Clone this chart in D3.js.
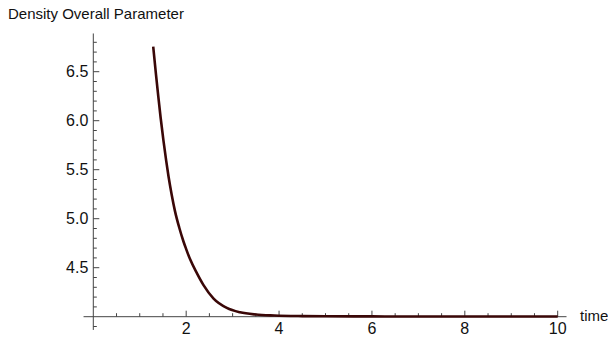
<!DOCTYPE html>
<html>
<head>
<meta charset="utf-8">
<script src="https://cdn.jsdelivr.net/npm/d3@7"></script>
<style>
  body { margin: 0; background: #fff; }
  text { font-family: "Liberation Sans", Arial, sans-serif; }
</style>
</head>
<body>
<div id="chart"></div>
<script>
// Values
const timeValues = [1.29, 1.35, 1.40, 1.45, 1.51, 1.57, 1.62, 1.69, 1.76, 1.85, 1.94, 2.00, 2.085, 2.23, 2.37, 2.59, 2.875, 3.16, 3.5, 3.9, 4.5, 5, 6, 7, 8, 9, 10];
const densityValues = [6.755, 6.47, 6.245, 6.03, 5.80, 5.59, 5.43, 5.24, 5.075, 4.91, 4.77, 4.69, 4.585, 4.445, 4.325, 4.185, 4.09, 4.045, 4.022, 4.012, 4.006, 4.004, 4.003, 4.002, 4.002, 4.002, 4.002];

const xMajorTicks = [2, 4, 6, 8, 10];
const yMajorTicks = [4.5, 5.0, 5.5, 6.0, 6.5];

const width = 608, height = 337;

const svg = d3.select('#chart')
    .append('svg')
    .attr('width', width)
    .attr('height', height);

// Scales: axes cross at (0, 4)
const x = d3.scaleLinear().domain([0, 10]).range([93.3, 557.7]);
const y = d3.scaleLinear().domain([4, 6.5]).range([316.7, 71.7]);

const axisColor = "#444";

// x axis line
svg.append("line")
    .attr("x1", x(-0.21)).attr("x2", x(10.19))
    .attr("y1", y(4)).attr("y2", y(4))
    .attr("stroke", axisColor).attr("stroke-width", 1);

// y axis line
svg.append("line")
    .attr("x1", x(0)).attr("x2", x(0))
    .attr("y1", y(6.89)).attr("y2", y(3.865))
    .attr("stroke", axisColor).attr("stroke-width", 1);

// x ticks (pointing up)
const xMinor = d3.range(0.5, 10.01, 0.5).filter(v => !xMajorTicks.includes(v));
svg.selectAll(".xminor").data(xMinor).enter().append("line")
    .attr("x1", d => x(d)).attr("x2", d => x(d))
    .attr("y1", y(4)).attr("y2", y(4) - 3.5)
    .attr("stroke", axisColor);
svg.selectAll(".xmajor").data(xMajorTicks).enter().append("line")
    .attr("x1", d => x(d)).attr("x2", d => x(d))
    .attr("y1", y(4)).attr("y2", y(4) - 6)
    .attr("stroke", axisColor);
svg.selectAll(".xlabel").data(xMajorTicks).enter().append("text")
    .attr("x", d => x(d)).attr("y", y(4) + 17)
    .attr("text-anchor", "middle")
    .attr("font-size", 16)
    .attr("fill", "#111")
    .text(d => d);

// y ticks (pointing right)
const yMinor = d3.range(39, 69).map(v => v / 10).filter(v => v !== 4 && !yMajorTicks.includes(v));
svg.selectAll(".yminor").data(yMinor).enter().append("line")
    .attr("x1", x(0)).attr("x2", x(0) + 3.5)
    .attr("y1", d => y(d)).attr("y2", d => y(d))
    .attr("stroke", axisColor);
svg.selectAll(".ymajor").data(yMajorTicks).enter().append("line")
    .attr("x1", x(0)).attr("x2", x(0) + 6)
    .attr("y1", d => y(d)).attr("y2", d => y(d))
    .attr("stroke", axisColor);
svg.selectAll(".ylabel").data(yMajorTicks).enter().append("text")
    .attr("x", x(0) - 5).attr("y", d => y(d) + 5.5)
    .attr("text-anchor", "end")
    .attr("font-size", 16)
    .attr("fill", "#111")
    .text(d => d.toFixed(1));

// axis titles
svg.append("text")
    .attr("x", 8).attr("y", 19)
    .attr("font-size", 15)
    .attr("fill", "#111")
    .text("Density Overall Parameter");
svg.append("text")
    .attr("x", 580).attr("y", 321)
    .attr("font-size", 15)
    .attr("fill", "#111")
    .text("time");

// curve
const line = d3.line()
    .x((d, i) => x(timeValues[i]))
    .y(d => y(d))
    .curve(d3.curveMonotoneX);

svg.append("path")
    .datum(densityValues)
    .attr("d", line)
    .attr("fill", "none")
    .attr("stroke", "#3a0707")
    .attr("stroke-width", 2.6);
</script>
</body>
</html>
